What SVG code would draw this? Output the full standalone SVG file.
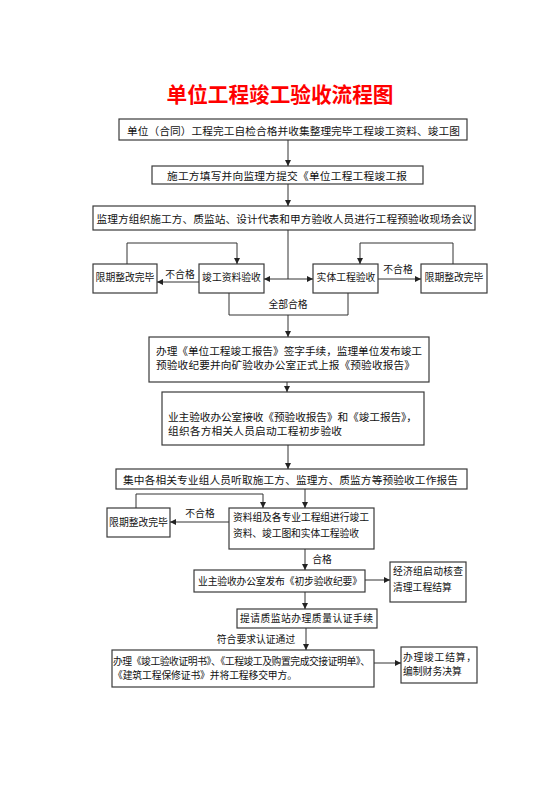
<svg xmlns="http://www.w3.org/2000/svg" width="560" height="792" viewBox="0 0 560 792">
<style>
.box{fill:#fff;stroke:#3a3a3a;stroke-width:1.2}
.t{font-family:"Noto Sans CJK SC","Liberation Sans",sans-serif;font-size:10.7px;fill:#111;dominant-baseline:central}
.s{font-size:9.8px}
.c{text-anchor:middle}
.ln{fill:none;stroke:#333;stroke-width:1}
.ar{marker-end:url(#ah)}
.lb{font-family:"Noto Sans CJK SC","Liberation Sans",sans-serif;font-size:9.8px;fill:#111;dominant-baseline:central;text-anchor:middle}
</style>
<defs>
<marker id="ah" viewBox="0 0 10 10" refX="10" refY="5" markerWidth="6" markerHeight="6" markerUnits="userSpaceOnUse" orient="auto-start-reverse">
<path d="M0,0 L10,5 L0,10 z" fill="#222"/>
</marker>
</defs>
<rect width="560" height="792" fill="#fff"/>
<text x="280" y="93" text-anchor="middle" dominant-baseline="central" font-family="Noto Sans CJK SC,sans-serif" font-weight="bold" font-size="21" fill="#f00" textLength="227" lengthAdjust="spacingAndGlyphs">单位工程竣工验收流程图</text>

<g id="n1"><rect class="box" x="119" y="119" width="348" height="21"/><text class="t c" x="293.5" y="130" textLength="333">单位（合同）工程完工自检合格并收集整理完毕工程竣工资料、竣工图</text></g>
<g id="n2"><rect class="box" x="152" y="166" width="271" height="18"/><text class="t c" x="287" y="175" textLength="240">施工方填写并向监理方提交《单位工程工程竣工报</text></g>
<g id="n3"><rect class="box" x="93" y="206" width="382" height="24"/><text class="t c" x="284.5" y="218" textLength="376">监理方组织施工方、质监站、设计代表和甲方验收人员进行工程预验收现场会议</text></g>
<g id="n4"><rect class="box" x="93" y="264" width="64" height="29"/><text class="t s c" x="125" y="277">限期整改完毕</text></g>
<g id="n5"><rect class="box" x="199" y="264" width="65" height="29"/><text class="t s c" x="231.5" y="277">竣工资料验收</text></g>
<g id="n6"><rect class="box" x="313" y="264" width="65" height="29"/><text class="t s c" x="346" y="277">实体工程验收</text></g>
<g id="n7"><rect class="box" x="421" y="264" width="66" height="29"/><text class="t s c" x="454" y="277">限期整改完毕</text></g>
<g id="n8"><rect class="box" x="149" y="337" width="280" height="45"/><text class="t" x="156" y="350" textLength="266">办理《单位工程竣工报告》签字手续，监理单位发布竣工</text><text class="t" x="156" y="364" textLength="259">预验收纪要并向矿验收办公室正式上报《预验收报告》</text></g>
<g id="n9"><rect class="box" x="162" y="392" width="262" height="53"/><text class="t" x="168" y="416" textLength="249">业主验收办公室接收《预验收报告》和《竣工报告》，</text><text class="t" x="168" y="430" textLength="174">组织各方相关人员启动工程初步验收</text></g>
<g id="n10"><rect class="box" x="116" y="469" width="351" height="20"/><text class="t c" x="290.5" y="479" textLength="335">集中各相关专业组人员听取施工方、监理方、质监方等预验收工作报告</text></g>
<g id="n11"><rect class="box" x="107" y="508" width="63" height="29"/><text class="t s c" x="138.5" y="522">限期整改完毕</text></g>
<g id="n12"><rect class="box" x="229" y="508" width="145" height="41"/><text class="t s" x="233" y="517" textLength="136">资料组及各专业工程组进行竣工</text><text class="t s" x="233" y="533" textLength="126">资料、竣工图和实体工程验收</text></g>
<g id="n13"><rect class="box" x="194" y="570" width="171" height="22"/><text class="t s c" x="280" y="581" textLength="164">业主验收办公室发布《初步验收纪要》</text></g>
<g id="n14"><rect class="box" x="390" y="562" width="76" height="40"/><text class="t s" x="393" y="571" textLength="70">经济组启动核查</text><text class="t s" x="393" y="587">清理工程结算</text></g>
<g id="n15"><rect class="box" x="237" y="609" width="140" height="19"/><text class="t s c" x="306.5" y="618" textLength="133">提请质监站办理质量认证手续</text></g>
<g id="n16"><rect class="box" x="112" y="650" width="262" height="37"/><text class="t s" x="113" y="661" textLength="257">办理《竣工验收证明书》、《工程竣工及购置完成交接证明单》、</text><text class="t s" x="113" y="675" textLength="184">《建筑工程保修证书》并将工程移交甲方。</text></g>
<g id="n17"><rect class="box" x="401" y="647" width="76" height="36"/><text class="t s" x="403" y="657" textLength="73">办理竣工结算，</text><text class="t s" x="403" y="671">编制财务决算</text></g>

<g id="connectors">
<line class="ln ar" x1="288" y1="140" x2="288" y2="166"/>
<line class="ln ar" x1="288" y1="184" x2="288" y2="206"/>
<line class="ln" x1="288" y1="230" x2="288" y2="279"/>
<line class="ln ar" x1="288" y1="279" x2="264" y2="279"/>
<line class="ln ar" x1="288" y1="279" x2="313" y2="279"/>
<line class="ln ar" x1="199" y1="282" x2="157" y2="282"/>
<polyline class="ln ar" points="127,264 127,243 237,243 237,264"/>
<line class="ln ar" x1="378" y1="279" x2="421" y2="279"/>
<polyline class="ln ar" points="453,264 453,243 360,243 360,264"/>
<polyline class="ln" points="229,293 229,315 348,315 348,293"/>
<line class="ln ar" x1="288" y1="315" x2="288" y2="337"/>
<line class="ln ar" x1="287" y1="382" x2="287" y2="392"/>
<line class="ln ar" x1="288" y1="445" x2="288" y2="469"/>
<line class="ln ar" x1="305" y1="489" x2="305" y2="508"/>
<polyline class="ln ar" points="136,508 136,494 263,494 263,508"/>
<line class="ln ar" x1="229" y1="522" x2="170" y2="522"/>
<line class="ln ar" x1="305" y1="549" x2="305" y2="570"/>
<line class="ln ar" x1="365" y1="580" x2="390" y2="580"/>
<line class="ln ar" x1="305" y1="592" x2="305" y2="609"/>
<line class="ln ar" x1="306" y1="628" x2="306" y2="650"/>
<line class="ln ar" x1="374" y1="663" x2="401" y2="663"/>
<text class="lb" x="180" y="274">不合格</text>
<text class="lb" x="398" y="269">不合格</text>
<text class="lb" x="288" y="304">全部合格</text>
<text class="lb" x="200" y="513">不合格</text>
<text class="lb" x="322" y="559">合格</text>
<text class="lb" x="256" y="639">符合要求认证通过</text>
</g>
</svg>
